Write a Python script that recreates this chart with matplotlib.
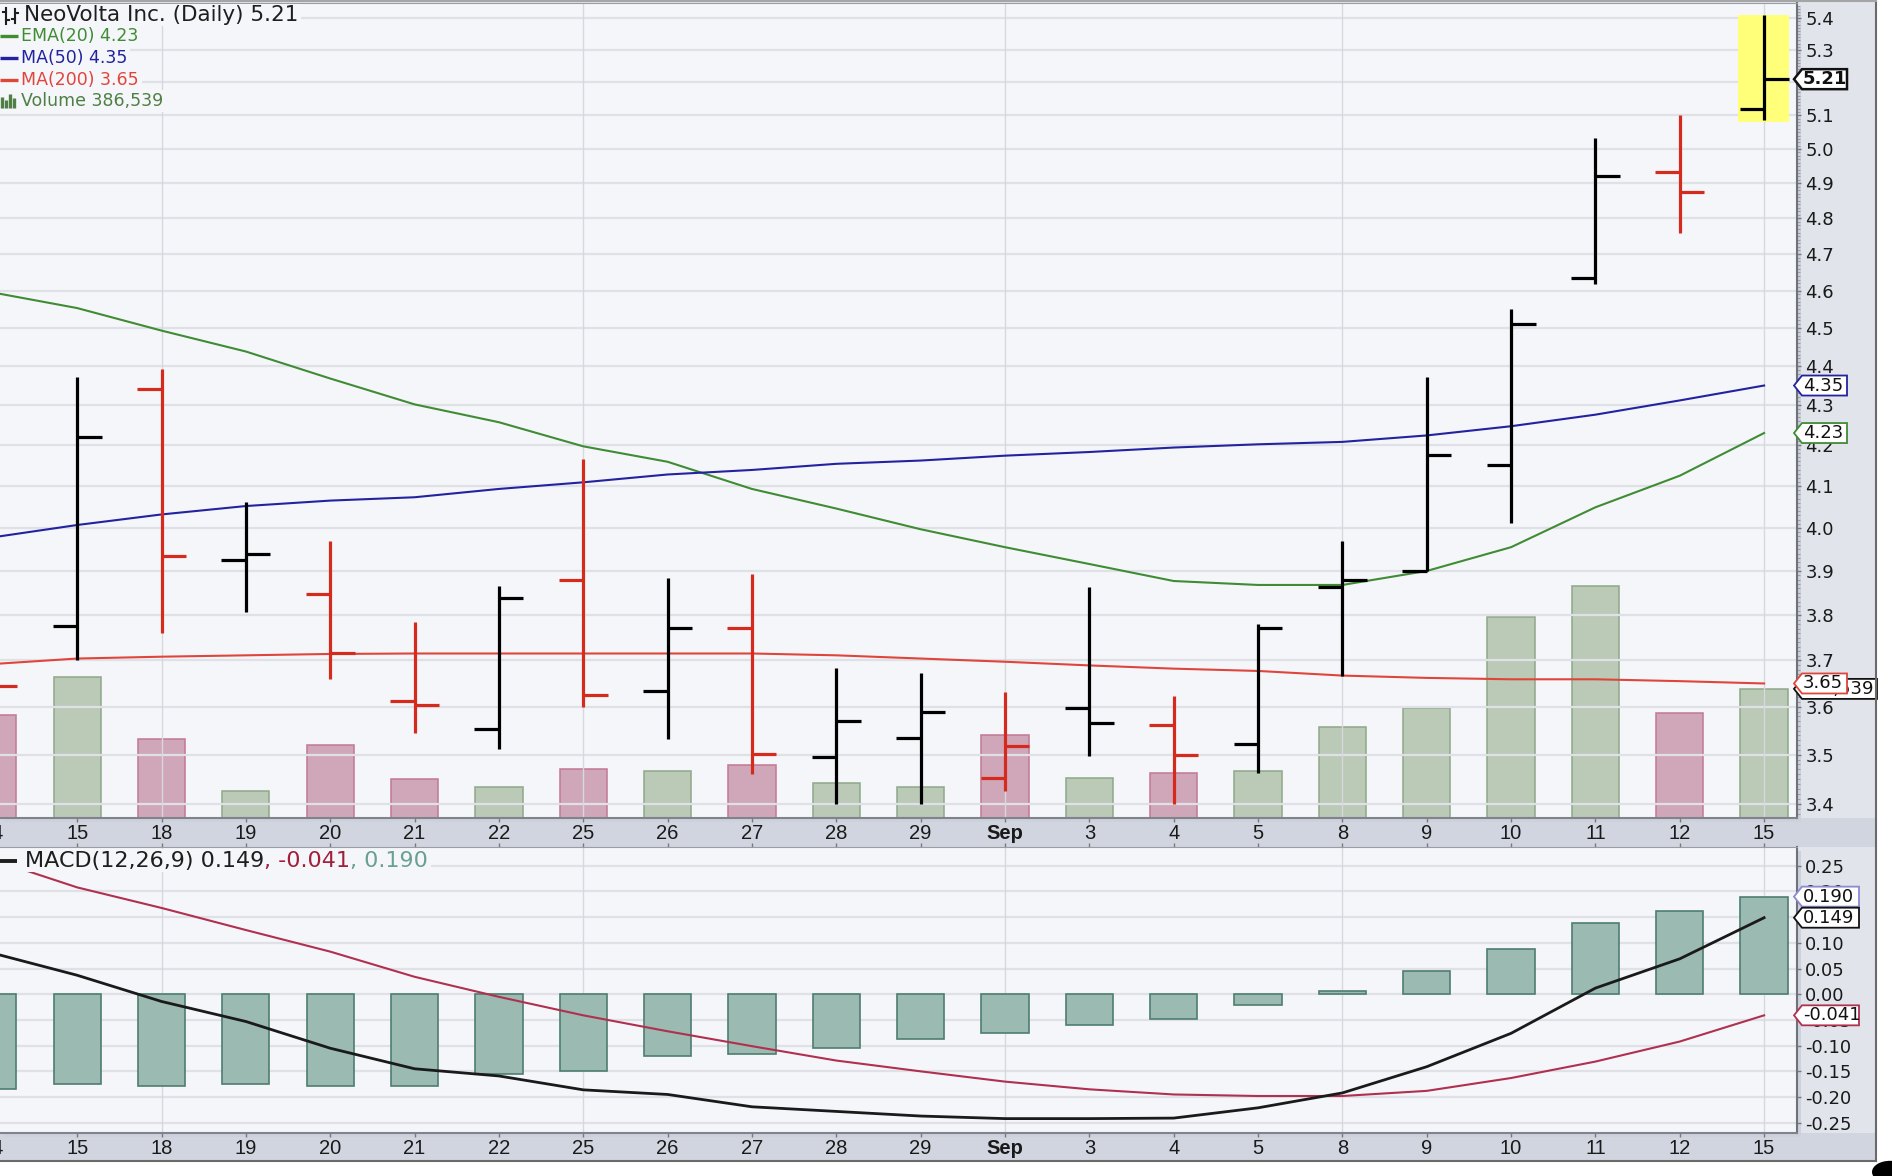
#!/usr/bin/env python3
import numpy as np
import matplotlib
matplotlib.use('Agg')
import matplotlib.pyplot as plt
from matplotlib.patches import Rectangle, Polygon, Circle
from matplotlib.lines import Line2D
from matplotlib.transforms import blended_transform_factory
from matplotlib.ticker import FixedLocator, FuncFormatter, NullFormatter

plt.rcParams['axes.unicode_minus'] = False
plt.rcParams['font.family'] = ['DejaVu Sans']

# daily bars, Aug 14 .. Sep 15
days = ['14', '15', '18', '19', '20', '21', '22', '25', '26', '27', '28', '29',
        'Sep', '3', '4', '5', '8', '9', '10', '11', '12', '15']
opens = [3.69, 3.776, 4.34, 3.925, 3.848, 3.612, 3.553, 3.88, 3.634, 3.772, 3.495,
         3.535, 3.452, 3.598, 3.561, 3.523, 3.864, 3.90, 4.151, 4.634, 4.932, 5.12]
highs = [3.72, 4.373, 4.392, 4.061, 3.969, 3.785, 3.866, 4.165, 3.884, 3.894, 3.683,
         3.672, 3.631, 3.863, 3.623, 3.781, 3.969, 4.371, 4.551, 5.032, 5.10, 5.41]
lows = [3.61, 3.70, 3.759, 3.806, 3.66, 3.545, 3.512, 3.60, 3.533, 3.46, 3.40,
        3.40, 3.426, 3.498, 3.40, 3.462, 3.667, 3.90, 4.011, 4.619, 4.76, 5.087]
closes = [3.645, 4.22, 3.935, 3.94, 3.715, 3.603, 3.839, 3.625, 3.772, 3.502, 3.57,
          3.59, 3.518, 3.565, 3.50, 3.771, 3.88, 4.175, 4.51, 4.92, 4.875, 5.21]
close_before = 3.69  # Aug 13 close (off screen)
volume = [308000, 422000, 236000, 80000, 218000, 117000, 92000, 146000, 140000, 158000, 104000,
          93000, 249000, 119000, 135000, 140000, 271000, 330000, 603000, 694000, 314000, 386539]

ema20 = [4.595, 4.553, 4.493, 4.438, 4.368, 4.302, 4.257, 4.197, 4.159, 4.093, 4.046,
         3.997, 3.955, 3.916, 3.877, 3.868, 3.868, 3.900, 3.955, 4.049, 4.125, 4.23]
ma50 = [3.978, 4.007, 4.032, 4.052, 4.065, 4.073, 4.093, 4.109, 4.128, 4.139, 4.154,
        4.162, 4.174, 4.183, 4.194, 4.202, 4.208, 4.224, 4.247, 4.276, 4.312, 4.35]
ma200 = [3.692, 3.704, 3.708, 3.711, 3.714, 3.715, 3.715, 3.715, 3.715, 3.715, 3.711,
         3.704, 3.697, 3.689, 3.682, 3.677, 3.667, 3.662, 3.659, 3.659, 3.655, 3.65]

macd = [0.080, 0.037, -0.014, -0.053, -0.105, -0.145, -0.159, -0.186, -0.195, -0.219, -0.228,
        -0.237, -0.242, -0.242, -0.241, -0.221, -0.192, -0.141, -0.076, 0.012, 0.069, 0.149]
signal = [0.262, 0.208, 0.168, 0.125, 0.083, 0.034, -0.005, -0.041, -0.072, -0.101, -0.129,
          -0.150, -0.170, -0.185, -0.195, -0.198, -0.198, -0.188, -0.163, -0.131, -0.092, -0.041]
hist = [-0.184, -0.175, -0.179, -0.175, -0.179, -0.179, -0.156, -0.150, -0.121, -0.117, -0.105,
        -0.087, -0.076, -0.060, -0.048, -0.021, 0.007, 0.046, 0.088, 0.138, 0.162, 0.190]

price_ticks = [3.4, 3.5, 3.6, 3.7, 3.8, 3.9, 4.0, 4.1, 4.2, 4.3, 4.4, 4.5, 4.6, 4.7,
               4.8, 4.9, 5.0, 5.1, 5.2, 5.3, 5.4]
macd_ticks = [-0.25, -0.20, -0.15, -0.10, -0.05, 0.0, 0.05, 0.10, 0.15, 0.20, 0.25]

# colours
BG = '#f5f6fa'
GRID = '#e0e1e7'
UP, DOWN = '#000000', '#d52b1e'
GREEN, BLUE, RED = '#3f8c34', '#2323a0', '#e0453b'
VOL_UP, VOL_UP_E = '#b6c5b2', '#8ea889'
VOL_DN, VOL_DN_E = '#cda1b4', '#c27792'
HIST_F, HIST_E = '#9bbab1', '#4e7d70'
SIG = '#b03050'

W, H = 1892, 1176
fig = plt.figure(figsize=(W / 100, H / 100), dpi=100)
fig.patch.set_facecolor('white')


def fr(x, y):
    return x / W, 1 - y / H


def box(x0, y0, x1, y1, **kw):
    fig.add_artist(Rectangle((x0 / W, 1 - y1 / H), (x1 - x0) / W, (y1 - y0) / H,
                             transform=fig.transFigure, **kw))


def seg(xs, ys, **kw):
    fig.add_artist(Line2D([x / W for x in xs], [1 - y / H for y in ys],
                          transform=fig.transFigure, **kw))


# frame / backdrop
box(0, 0, 1876, 1161, fc='#e1e4eb', ec='none', zorder=0)
box(0, 818, 1876, 847, fc='#d1d5df', ec='none', zorder=0.1)
box(0, 1133, 1876, 1161, fc='#d1d5df', ec='none', zorder=0.1)
box(4, 7, 1801, 822, fc='#cdd1db', ec='none', zorder=0.2)
box(4, 851, 1801, 1137, fc='#cdd1db', ec='none', zorder=0.2)
seg([1876, 1876], [0, 1161], color='#6a6a6a', lw=1.5, zorder=30)
seg([0, 1876], [1161, 1161], color='#6a6a6a', lw=1.5, zorder=30)
seg([0, 1876], [1, 1], color='#a5a5a5', lw=1.5, zorder=30)

x = np.arange(len(days))
prev = [close_before] + closes[:-1]
up = [c >= p for c, p in zip(closes, prev)]
bar_col = [UP if u else DOWN for u in up]
xlim = (0.085, 21.39)
mondays = [days.index('18'), days.index('25'), days.index('Sep'), days.index('8'), len(days) - 1]

# ---------------- price panel ----------------
rect_p = [0, 1 - 818 / H, 1797 / W, 815 / H]
axv = fig.add_axes(rect_p, zorder=1)
axv.set_facecolor(BG)
axv.bar(x, volume, width=0.56, color=[VOL_UP if u else VOL_DN for u in up],
        edgecolor=[VOL_UP_E if u else VOL_DN_E for u in up], lw=1.2, alpha=0.92)
axv.set_xlim(*xlim)
axv.set_ylim(0, 2.44e6)
axv.set_xticks([])
axv.set_yticks([])
for s in axv.spines.values():
    s.set_visible(False)

ax = fig.add_axes(rect_p, zorder=2)
ax.set_facecolor('none')
ax.set_yscale('log')
ax.set_ylim(3.372, 5.449)
ax.set_xlim(*xlim)
ax.yaxis.set_major_locator(FixedLocator(price_ticks))
ax.yaxis.set_major_formatter(FuncFormatter(lambda v, p: f'{v:.1f}'))
ax.yaxis.set_minor_locator(FixedLocator(np.arange(3.38, 5.45, 0.01)))
ax.yaxis.set_minor_formatter(NullFormatter())
ax.yaxis.tick_right()
ax.tick_params(axis='y', which='major', length=3, width=1, color='#777a82', pad=3,
               labelsize=13, labelcolor='#1a1a1a')
ax.tick_params(axis='y', which='minor', length=2, width=0.8, color='#9a9da5')
ax.grid(axis='y', which='major', color=GRID, lw=1.6)
ax.set_axisbelow(True)
for i in mondays:
    ax.axvline(i, color='#d6d8de', lw=1, zorder=0.6)

ax.fill_between([20.69, 21.30], lows[-1] - 0.007, highs[-1], color='#ffff7a', lw=0, zorder=1)
ax.plot(x, ema20, color=GREEN, lw=1.5, zorder=2)
ax.plot(x, ma50, color=BLUE, lw=1.5, zorder=2)
ax.plot(x, ma200, color=RED, lw=1.5, zorder=2)
ax.vlines(x, lows, highs, colors=bar_col, lw=2.3, zorder=3)
ax.hlines(opens, x - 0.29, x, colors=bar_col, lw=2.3, zorder=3)
ax.hlines(closes, x, x + 0.29, colors=bar_col, lw=2.3, zorder=3)

# ---------------- MACD panel ----------------
ax2 = fig.add_axes([0, 1 - 1133 / H, 1797 / W, 286 / H], zorder=2)
ax2.set_facecolor(BG)
ax2.set_xlim(*xlim)
ax2.set_ylim(-0.270, 0.2866)
ax2.yaxis.set_major_locator(FixedLocator(macd_ticks))
ax2.yaxis.set_major_formatter(FuncFormatter(lambda v, p: f'{v:.2f}'))
ax2.yaxis.tick_right()
ax2.tick_params(axis='y', length=3, width=1, color='#777a82', pad=3,
                labelsize=13, labelcolor='#1a1a1a')
ax2.grid(axis='y', color=GRID, lw=1.6)
ax2.set_axisbelow(True)
for i in mondays:
    ax2.axvline(i, color='#d6d8de', lw=1, zorder=0.6)
ax2.bar(x, hist, width=0.56, color=HIST_F, edgecolor=HIST_E, lw=1.2, zorder=1)
ax2.plot(x, signal, color=SIG, lw=1.5, zorder=2)
ax2.plot(x, macd, color='#1a1a1a', lw=2.0, zorder=3)

# x axes
xfont = dict(family=['Liberation Sans Narrow', 'Liberation Sans'], size=14.5)
for a in (ax, ax2):
    a.set_xticks(x[1:])
    a.set_xticklabels(days[1:], color='#1a1a1a', **xfont)
    a.tick_params(axis='x', length=3, width=1, color='#777a82', pad=1.5)
    for t in a.get_xticklabels():
        if t.get_text() == 'Sep':
            t.set_fontweight('bold')
    a.annotate(days[0], xy=(0, 0), xycoords=blended_transform_factory(a.transData, a.transAxes),
               xytext=(0, -4.5), textcoords='offset points', ha='center', va='top',
               annotation_clip=False, color='#1a1a1a', **xfont)
    a.spines['left'].set_visible(False)
    a.spines['right'].set_color('#6f727b')
    a.spines['right'].set_linewidth(1.5)
    a.spines['bottom'].set_color('#80838c')
    a.spines['bottom'].set_linewidth(1.5)
    a.spines['top'].set_color('#9a9da6')
ax2.tick_params(axis='x', top=True)

# ---------------- value tags on the right ----------------
tag_z = [20]


def tag(a, yval, text, edge, width, weight='normal', lw=1.3, right=False):
    y = H - a.transData.transform((0, yval))[1]
    x0 = 1794
    pts = [fr(x0, y), fr(x0 + 8, y - 10), fr(x0 + width, y - 10),
           fr(x0 + width, y + 10), fr(x0 + 8, y + 10)]
    z = tag_z[0]
    fig.add_artist(Polygon(pts, closed=True, transform=fig.transFigure,
                           fc='white', ec=edge, lw=lw, zorder=z))
    if right:
        fig.text(*fr(x0 + width - 3, y), text, ha='right', va='center', fontsize=13,
                 fontweight=weight, color='#111111', zorder=z + 0.5)
    else:
        fig.text(*fr(x0 + 9, y), text, ha='left', va='center', fontsize=13,
                 fontweight=weight, color='#111111', zorder=z + 0.5)
    tag_z[0] += 1


tag(axv, volume[-1], f'{volume[-1]:,}', '#111111', 83, right=True)
tag(ax, closes[-1], f'{closes[-1]:.2f}', '#111111', 53, weight='bold', lw=1.8)
tag(ax, ma50[-1], f'{ma50[-1]:.2f}', BLUE, 53)
tag(ax, ema20[-1], f'{ema20[-1]:.2f}', GREEN, 53)
tag(ax, ma200[-1], f'{ma200[-1]:.2f}', RED, 53)
tag(ax2, hist[-1], f'{hist[-1]:.3f}', '#8a8ad0', 65)
tag(ax2, macd[-1], f'{macd[-1]:.3f}', '#111111', 65)
tag(ax2, signal[-1], f'{signal[-1]:.3f}', SIG, 65)

# black dot in the corner
fig.add_artist(Circle((1890 / W, 4 / H), 18 / W, transform=fig.transFigure,
                      fc='black', ec='none', zorder=40))

# ---------------- legends ----------------
renderer = fig.canvas.get_renderer()
rows = [
    (f'NeoVolta Inc. (Daily) {closes[-1]:.2f}', '#1e1e1e', 15, 15.5, 24),
    (f'EMA(20) {ema20[-1]:.2f}', GREEN, 36, 12.5, 21),
    (f'MA(50) {ma50[-1]:.2f}', BLUE, 58, 12.5, 21),
    (f'MA(200) {ma200[-1]:.2f}', RED, 80, 12.5, 21),
    (f'Volume {volume[-1]:,}', '#4f7f45', 101, 12.5, 21),
]
for text, col, yc, fs, x0 in rows:
    t = fig.text(*fr(x0, yc), text, color=col, fontsize=fs, va='center', ha='left', zorder=11)
    bb = t.get_window_extent(renderer=renderer)
    box(0, yc - 11, bb.x1 + 3, yc + 11, fc=BG, ec='none', zorder=10)
for col, yc in [(GREEN, 36), (BLUE, 58), (RED, 80)]:
    seg([0, 18], [yc, yc], color=col, lw=2.4, zorder=12, solid_capstyle='butt')
# little bar-chart glyph for volume
for bx, top in [(2, 97), (6, 100), (10, 94), (14, 98)]:
    seg([bx, bx], [108, top], color='#4f7f45', lw=2.4, zorder=12, solid_capstyle='butt')
# OHLC glyph before title
for bx, lo, hi, o, c in [(6, 24, 8, 12, 20), (15, 23, 9, 19, 13)]:
    seg([bx, bx], [lo, hi], color='#1e1e1e', lw=1.5, zorder=12)
    seg([bx - 3, bx], [o, o], color='#1e1e1e', lw=1.5, zorder=12)
    seg([bx, bx + 3], [c, c], color='#1e1e1e', lw=1.5, zorder=12)

# MACD legend
t1 = fig.text(*fr(25, 861), f'MACD(12,26,9) {macd[-1]:.3f}', color='#1e1e1e',
              fontsize=16, va='center', ha='left', zorder=11)
t2 = ax2.annotate(f', {signal[-1]:.3f}', xy=(1, 0), xycoords=t1, va='bottom', ha='left',
                  fontsize=16, color='#a0203c', annotation_clip=False, zorder=11)
t3 = ax2.annotate(f', {hist[-1]:.3f}', xy=(1, 0), xycoords=t2, va='bottom', ha='left',
                  fontsize=16, color='#6aa090', annotation_clip=False, zorder=11)
bb3 = t3.get_window_extent(renderer=renderer)
ax2.add_artist(Rectangle((0, 1 - 872 / H), (bb3.x1 + 3) / W, 23 / H,
                         transform=fig.transFigure, fc=BG, ec='none', zorder=10))
seg([0, 17], [861, 861], color='#1e1e1e', lw=2.8, zorder=12, solid_capstyle='butt')

fig.savefig('out.png', dpi=100)
